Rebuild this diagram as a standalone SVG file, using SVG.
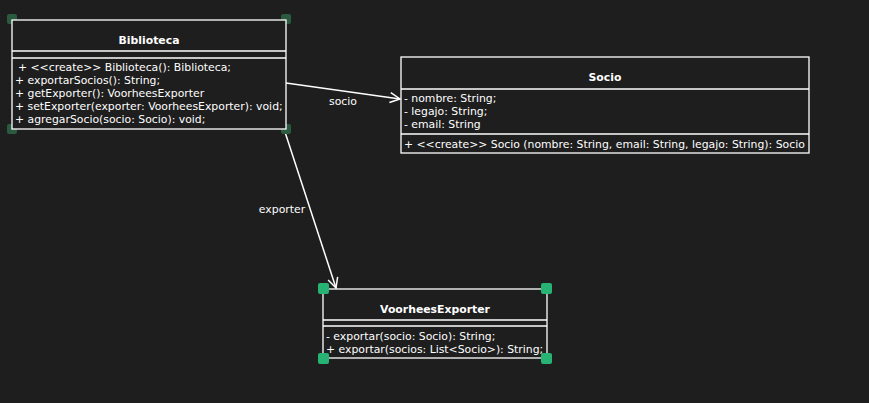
<svg xmlns="http://www.w3.org/2000/svg" width="869" height="403" viewBox="0 0 869 403">
<style>
.bg{fill:#1e1e1e}
.box{fill:#1e1e1e;stroke:#ffffff;stroke-width:1.3}
.sep{stroke:#ffffff;stroke-width:1.3}
text{font-family:"DejaVu Sans",sans-serif;font-size:10.85px;fill:#ffffff}
.title{font-weight:bold;text-anchor:middle}
.edge{stroke:#ffffff;stroke-width:1.5;fill:none}
.hd{fill:#2a5a40}
.hb{fill:#27b374}
</style>
<defs>
<marker id="open" viewBox="0 0 12 12" refX="11" refY="6" markerWidth="12" markerHeight="12" markerUnits="userSpaceOnUse" orient="auto">
<path d="M1,1 L11,6 L1,11" fill="none" stroke="#ffffff" stroke-width="1.5"/>
</marker>
</defs>
<rect class="bg" x="0" y="0" width="869" height="403"/>
<g id="connectors">
<path class="edge" d="M286,83 L400,99" marker-end="url(#open)"/>
<text x="343" y="105" text-anchor="middle">socio</text>
<path class="edge" d="M284,129 L336,288" marker-end="url(#open)"/>
<text x="282" y="213" text-anchor="middle">exporter</text>
</g>
<g id="Biblioteca">
<rect class="hd" x="7" y="14" width="10" height="10" rx="2"/>
<rect class="hd" x="281" y="14" width="10" height="10" rx="2"/>
<rect class="hd" x="7" y="124" width="10" height="10" rx="2"/>
<rect class="hd" x="281" y="124" width="10" height="10" rx="2"/>
<rect class="box" x="12" y="20" width="274" height="109"/>
<line class="sep" x1="12" y1="51" x2="286" y2="51"/>
<line class="sep" x1="12" y1="58" x2="286" y2="58"/>
<text class="title" x="149" y="44">Biblioteca</text>
<text x="18" y="71">+ &lt;&lt;create&gt;&gt; Biblioteca(): Biblioteca;</text>
<text x="15" y="84">+ exportarSocios(): String;</text>
<text x="15" y="97">+ getExporter(): VoorheesExporter</text>
<text x="15" y="110">+ setExporter(exporter: VoorheesExporter): void;</text>
<text x="15" y="123">+ agregarSocio(socio: Socio): void;</text>
</g>
<g id="Socio">
<rect class="box" x="401" y="57" width="408" height="96"/>
<line class="sep" x1="401" y1="89" x2="809" y2="89"/>
<line class="sep" x1="401" y1="134" x2="809" y2="134"/>
<text class="title" x="605" y="81">Socio</text>
<text x="404" y="102">- nombre: String;</text>
<text x="404" y="115">- legajo: String;</text>
<text x="404" y="128">- email: String</text>
<text x="404" y="148">+ &lt;&lt;create&gt;&gt; Socio (nombre: String, email: String, legajo: String): Socio</text>
</g>
<g id="VoorheesExporter">
<rect class="box" x="323" y="289" width="224" height="69"/>
<line class="sep" x1="323" y1="320" x2="547" y2="320"/>
<line class="sep" x1="323" y1="326" x2="547" y2="326"/>
<text class="title" x="435" y="313">VoorheesExporter</text>
<text x="326" y="340">- exportar(socio: Socio): String;</text>
<text x="326" y="353">+ exportar(socios: List&lt;Socio&gt;): String;</text>
<rect class="hb" x="318" y="283" width="11" height="11" rx="2"/>
<rect class="hb" x="541" y="283" width="11" height="11" rx="2"/>
<rect class="hb" x="318" y="353" width="11" height="11" rx="2"/>
<rect class="hb" x="541" y="353" width="11" height="11" rx="2"/>
</g>
</svg>
